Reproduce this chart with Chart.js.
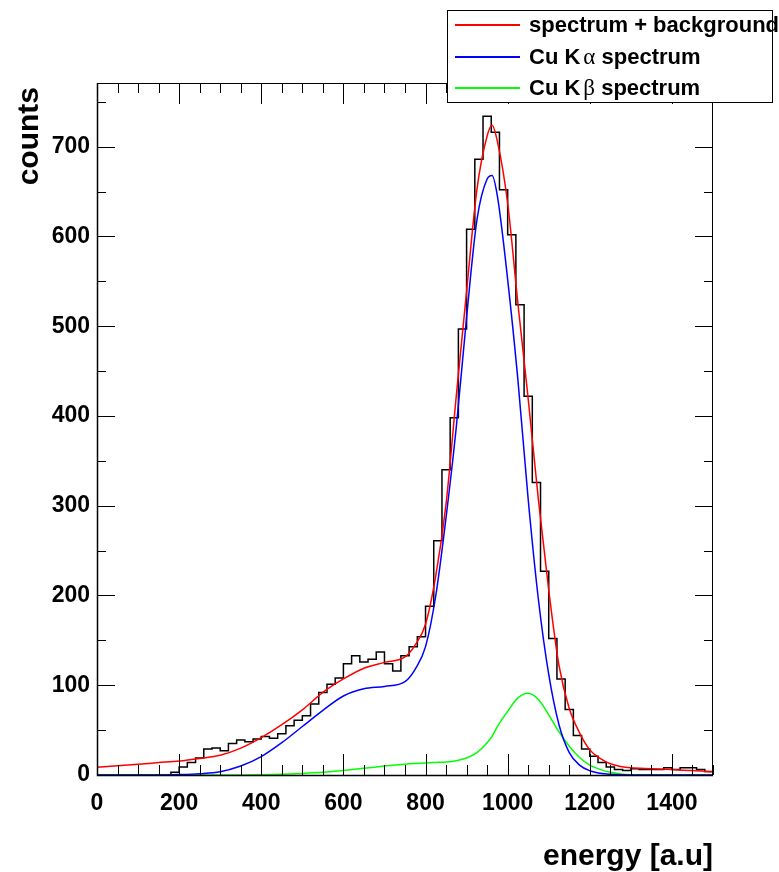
<!DOCTYPE html>
<html>
<head>
<meta charset="utf-8">
<script src="https://cdn.jsdelivr.net/npm/chart.js@4/dist/chart.umd.min.js"></script>
<style>
  html, body { margin: 0; padding: 0; background: #fff; }
</style>
</head>
<body>
<canvas id="spectrumChart" width="779" height="872"></canvas>
<script>
// histogram: left edge of each 20-unit bin and its counts
const binStart = [0, 20, 40, 60, 80, 100, 120, 140, 160, 180, 200, 220, 240, 260, 280, 300, 320, 340, 360, 380,
    400, 420, 440, 460, 480, 500, 520, 540, 560, 580, 600, 620, 640, 660, 680, 700, 720, 740, 760, 780,
    800, 820, 840, 860, 880, 900, 920, 940, 960, 980, 1000, 1020, 1040, 1060, 1080, 1100, 1120, 1140, 1160, 1180,
    1200, 1220, 1240, 1260, 1280, 1300, 1320, 1340, 1360, 1380, 1400, 1420, 1440, 1460, 1480];
const binCounts = [0, 0, 0, 0, 0, 0, 0, 0, 0, 3, 9, 14, 19, 29, 30, 27, 35, 39, 37, 40,
    43, 41, 46, 55, 61, 66, 79, 92, 101, 108, 124, 133, 126, 129, 137, 124, 116, 133, 143, 154,
    188, 261, 340, 398, 497, 608, 686, 734, 716, 652, 602, 524, 422, 326, 227, 152, 107, 73, 44, 29,
    21, 14, 9, 6, 5, 7, 6, 6, 6, 8, 6, 8, 8, 6, 4];
const histEnd = 1500;

const curveX = [0, 50, 100, 150, 200, 250, 300, 350, 400, 450, 500, 550, 600, 650, 700, 750, 775, 800, 825, 850,
    875, 900, 925, 950, 962, 975, 1000, 1025, 1050, 1075, 1100, 1125, 1150, 1175, 1200, 1225, 1250, 1275, 1300,
    1350, 1400, 1450, 1500];
const fitTotal = [8.6, 10.3, 12, 13.8, 15.6, 18.5, 22, 30, 41.7, 56, 72.6, 92, 107, 119, 125.5, 131.5, 145, 168, 222, 302,
    423, 539, 652, 712, 724, 706, 637, 525, 419, 306, 206, 122, 74, 47, 28, 18.6, 12.5, 9.5, 8,
    7, 6, 5, 3.5];
const fitKalpha = [0, 0, 0, 0, 0.5, 1.5, 3.7, 10, 20.5, 36, 54, 72, 88, 96, 98.7, 104, 118, 143, 200, 287,
    388, 510, 618, 664, 668, 645, 552, 440, 307, 195, 112, 56, 25, 11, 4.8, 2, 0.8, 0.3, 0.1,
    0, 0, 0, 0];
const fitKbeta = [0, 0, 0, 0, 0, 0, 0, 0, 0.2, 0.8, 1.7, 3, 5, 7.4, 9.9, 12, 12.8, 13.5, 14, 14.5,
    16, 19, 25, 36, 43, 54, 71, 86, 91, 84, 67, 48, 32, 19.5, 11, 6.3, 3, 1.2, 0.4,
    0, 0, 0, 0];

const seriesNames = ['spectrum + background', 'Cu K\u03b1 spectrum', 'Cu K\u03b2 spectrum'];
const seriesColors = ['#ff0000', '#0000ff', '#00ff00'];

const xMin = 0, xMax = 1500, yMin = 0, yMax = 771;
const xMajorStep = 200, xMinorStep = 50;
const yMajorStep = 100, yMinorStep = 50;

const sansBold = '"Liberation Sans", Arial, Helvetica, sans-serif';

function points(xs, ys) {
    return xs.map((x, i) => ({ x: x, y: ys[i] }));
}

const histPoints = points(binStart, binCounts);
histPoints.push({ x: histEnd, y: binCounts[binCounts.length - 1] });

function curve(label, data, color) {
    return {
        label: label,
        data: data,
        borderColor: color,
        borderWidth: 1.5,
        pointRadius: 0,
        fill: false,
        cubicInterpolationMode: 'monotone',
        order: 1
    };
}

// ROOT style frame with inward ticks, legend box and axis titles
const rootStyle = {
    id: 'rootStyle',
    afterDatasetsDraw(chart) {
        const { ctx, chartArea: a, scales: { x, y } } = chart;
        ctx.save();
        ctx.strokeStyle = '#000';
        ctx.lineWidth = 1;
        ctx.strokeRect(a.left + 0.5, a.top + 0.5, a.right - a.left - 1, a.bottom - a.top);

        ctx.beginPath();
        for (let v = xMin; v <= xMax; v += xMinorStep) {
            const px = Math.round(x.getPixelForValue(v)) + 0.5;
            const len = v % xMajorStep === 0 ? 21 : 10;
            ctx.moveTo(px, a.bottom); ctx.lineTo(px, a.bottom - len);
            ctx.moveTo(px, a.top); ctx.lineTo(px, a.top + len);
        }
        for (let v = yMin; v <= yMax; v += yMinorStep) {
            const py = Math.round(y.getPixelForValue(v)) + 0.5;
            const len = v % yMajorStep === 0 ? 18 : 9;
            ctx.moveTo(a.left, py); ctx.lineTo(a.left + len, py);
            ctx.moveTo(a.right, py); ctx.lineTo(a.right - len, py);
        }
        ctx.stroke();

        // axis lines a bit heavier
        ctx.lineWidth = 1.5;
        ctx.beginPath();
        ctx.moveTo(a.left + 0.5, a.top); ctx.lineTo(a.left + 0.5, a.bottom + 0.5);
        ctx.lineTo(a.right, a.bottom + 0.5);
        ctx.stroke();
        ctx.restore();
    },
    afterDraw(chart) {
        const { ctx, chartArea: a } = chart;
        ctx.save();
        ctx.fillStyle = '#000';

        // axis titles
        ctx.font = 'bold 30px ' + sansBold;
        ctx.textAlign = 'right';
        ctx.textBaseline = 'alphabetic';
        ctx.fillText('energy [a.u]', a.right, 865);

        ctx.save();
        ctx.translate(38, a.top + 4);
        ctx.rotate(-Math.PI / 2);
        ctx.fillText('counts', 0, 0);
        ctx.restore();

        // legend
        const box = { l: 447, t: 10, r: 772, b: 102 };
        ctx.fillStyle = '#fff';
        ctx.fillRect(box.l, box.t, box.r - box.l, box.b - box.t);
        ctx.strokeStyle = '#000';
        ctx.lineWidth = 1;
        ctx.strokeRect(box.l + 0.5, box.t + 0.5, box.r - box.l, box.b - box.t);

        const rows = [25, 57, 88];
        seriesNames.forEach((name, i) => {
            const ry = rows[i];
            ctx.strokeStyle = seriesColors[i];
            ctx.lineWidth = 2;
            ctx.beginPath();
            ctx.moveTo(455, ry); ctx.lineTo(520, ry);
            ctx.stroke();

            ctx.fillStyle = '#000';
            ctx.textAlign = 'left';
            ctx.textBaseline = 'middle';
            let tx = 529;
            for (const ch of name) {
                if (/[\u03b1-\u03c9]/.test(ch)) {
                    tx += 3;
                    ctx.font = '23px "Liberation Serif", "DejaVu Serif", serif';
                } else {
                    ctx.font = 'bold 22px ' + sansBold;
                }
                ctx.fillText(ch, tx, ry + 1);
                tx += ctx.measureText(ch).width;
            }
        });
        ctx.restore();
    }
};

new Chart(document.getElementById('spectrumChart'), {
    type: 'line',
    data: {
        datasets: [
            curve(seriesNames[0], points(curveX, fitTotal), seriesColors[0]),
            curve(seriesNames[1], points(curveX, fitKalpha), seriesColors[1]),
            curve(seriesNames[2], points(curveX, fitKbeta), seriesColors[2]),
            {
                label: 'data',
                data: histPoints,
                borderColor: '#000',
                borderWidth: 1.5,
                pointRadius: 0,
                fill: false,
                stepped: 'before',
                order: 5
            }
        ]
    },
    options: {
        responsive: false,
        animation: false,
        devicePixelRatio: 1,
        layout: { padding: { left: 0, right: 66, top: 83, bottom: 0 } },
        plugins: {
            legend: { display: false },
            tooltip: { enabled: false }
        },
        scales: {
            x: {
                type: 'linear',
                min: xMin,
                max: xMax,
                grid: { display: false, drawTicks: false },
                border: { display: false },
                ticks: {
                    stepSize: xMajorStep,
                    includeBounds: false,
                    maxRotation: 0,
                    autoSkip: false,
                    padding: 15,
                    color: '#000',
                    font: { family: sansBold, weight: 'bold', size: 23 },
                    callback: v => String(v)
                },
                afterFit: s => { s.height = 97; }
            },
            y: {
                type: 'linear',
                min: yMin,
                max: yMax,
                grid: { display: false, drawTicks: false },
                border: { display: false },
                ticks: {
                    stepSize: yMajorStep,
                    includeBounds: false,
                    padding: 7,
                    color: '#000',
                    font: { family: sansBold, weight: 'bold', size: 23 },
                    callback: v => String(v)
                },
                afterFit: s => { s.width = 97; }
            }
        }
    },
    plugins: [rootStyle]
});
</script>
</body>
</html>
